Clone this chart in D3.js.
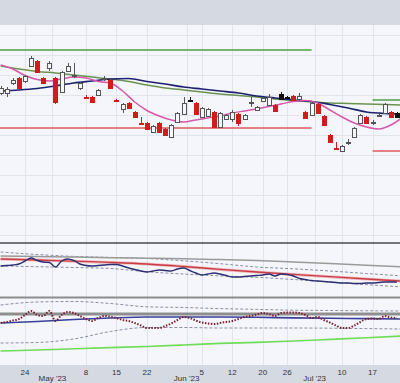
<!DOCTYPE html>
<html>
<head>
<meta charset="utf-8">
<script src="https://cdn.jsdelivr.net/npm/d3@7/dist/d3.min.js"></script>
<style>
  html, body { margin: 0; padding: 0; background: #f4f6fb; }
  svg { display: block; font-family: "Liberation Sans", Arial, sans-serif; }
</style>
</head>
<body>
<div id="chart"></div>
<script>
// price candles, one per trading day (Apr 18 .. Jul 21 2023)
const open  = [52.2,52.2,53.2,53.7,53.4,54.9,55.4,53.7,54.7,53.7,52.3,54.4,53.9,52.7,51.8,51.8,52.0,53.65,53.5,51.55,50.6,51.2,50.3,49.25,49.2,48.3,49.2,48.6,47.8,49.3,50.1,51.55,51.2,49.8,49.9,50.3,48.8,49.6,49.6,50.1,49.6,51.25,50.5,51.4,51.0,51.0,52.1,51.85,51.9,51.6,50.3,50.0,51.1,49.9,48.0,46.75,46.4,47.25,47.8,49.2,49.8,49.25,50.0,50.2,50.3,50.2];
const high  = [52.9,52.8,53.7,53.8,54.0,55.9,55.5,53.8,55.4,53.8,54.4,55.2,55.2,53.3,52.0,51.9,52.6,53.9,53.6,51.6,51.2,51.3,50.4,49.8,49.3,49.0,49.3,48.7,49.1,50.3,51.8,51.8,51.3,50.8,50.7,50.4,50.3,50.1,50.5,50.2,50.1,51.8,50.9,51.8,52.1,51.1,52.3,51.9,52.0,52.2,50.4,51.3,51.2,50.0,48.1,47.3,47.0,47.6,48.8,50.1,49.9,49.5,50.3,51.2,50.4,50.3];
const low   = [52.0,51.8,53.0,52.6,53.2,54.8,54.2,53.1,54.4,51.1,52.2,54.3,53.7,52.5,51.6,51.2,51.9,53.4,52.6,51.4,50.2,50.6,49.7,49.1,48.5,48.2,48.2,47.9,47.7,49.2,50.0,51.3,50.0,49.7,49.8,48.7,48.7,49.5,49.3,48.9,49.5,50.8,50.4,51.3,50.9,50.3,51.5,51.7,51.4,51.4,49.6,49.9,50.1,48.9,47.2,46.6,46.3,47.0,47.7,49.1,49.1,49.0,49.8,50.1,49.7,49.7];
const close = [52.7,52.6,53.5,52.7,53.9,55.7,54.3,53.2,55.2,51.3,54.3,54.9,54.0,53.2,51.7,51.3,52.5,53.7,52.7,51.45,51.1,50.7,49.8,49.15,48.6,48.9,48.3,48.0,49.0,50.2,51.2,51.45,50.1,50.7,50.6,48.8,50.2,50.0,50.3,49.2,50.0,51.3,50.8,51.7,51.8,50.4,51.6,51.75,51.5,51.9,49.7,51.2,50.2,49.0,47.3,46.65,46.9,47.3,48.7,50.0,49.2,49.3,50.05,51.1,49.8,49.85];

// x axis ticks (index into the candle arrays)
const dayTickIdx = [4, 14, 19, 24, 33, 38, 43, 47, 56, 61];
const dayTickLabels = ['24', '8', '15', '22', '5', '12', '20', '26', '10', '17'];
const monthTickIdx = [8.5, 30.5, 51.5];
const monthTickLabels = ["May '23", "Jun '23", "Jul '23"];

// moving averages on the price panel
const maSlowIdx = [0,3,6,9,12,15,18,21,24,27,30,33,36,39,42,45,48,51,54,57,60,63,66];
const maNavy  = [52.4,52.5,52.65,52.9,53.2,53.4,53.6,53.65,53.35,53.1,52.8,52.6,52.4,52.2,51.9,51.7,51.5,51.35,51.05,50.7,50.3,50.15,50.1];
const maOlive = [54.9,54.6,54.35,54.2,54.0,53.8,53.6,53.35,53.0,52.7,52.5,52.3,52.1,51.95,51.8,51.6,51.45,51.3,51.2,51.15,51.1,51.05,51.0];
const maFastIdx = [0,2,4,6,8,10,12,14,16,18,20,22,24,26,28,30,32,34,36,38,40,42,44,46,48,50,52,54,56,58,60,62,64,66];
const maPink  = [55.0,54.6,53.95,53.55,53.4,53.6,53.8,53.7,53.35,53.2,52.4,51.3,50.45,49.9,49.5,49.3,49.5,49.7,49.9,50.2,50.4,50.6,50.85,51.1,51.35,51.45,51.2,50.5,49.8,49.2,48.8,48.6,49.0,49.8];

// horizontal support / resistance levels
const levelValue = [56.5, 48.7, 51.5, 46.4];
const levelFrom  = [-1, -1, 61, 61];
const levelTo    = [51, 51, 67, 67];

// middle panel
const p2Idx = [0,6,12,18,24,30,36,42,48,54,60,66];
const p2Gray  = [41,40.5,40,39.3,38.8,38.3,37.4,36.4,35,33.5,31.7,30];
const p2Red   = [38,37,35.8,34.6,33,30.5,27.6,25,22.6,20.3,18,15.8];
const p2Upper = [45,42.5,40.6,39.6,38.5,36.2,33.3,30,28.2,26,23.5,21];
const p2Lower = [31,30.3,29.5,28.5,25.2,23,21.1,19.7,17.5,15,12.4,10];
const p2Navy  = [31,31.5,32,33,36,39,36.5,35,34.5,30,36,38,36.5,33,31.5,31,31.5,32,32.5,32.5,31,29,27.5,26,25,26,27,26.5,26,28,29,26.5,24,22,23,24,23,21.5,20,20,20.5,21,21.5,22,23,21,23,22.5,21,18.5,17.5,16.5,16,15.5,15,14.5,14,14,13.5,13.5,14,14,14.5,15,15,15];

// bottom panel
const p3Idx = [0,6,12,18,24,30,36,42,48,54,60,66];
const p3Navy  = [42,43.5,45.5,47,48,48,48,47.7,47.1,46.7,46.4,46];
const p3Upper = [60,63,63.5,61.5,58.2,57.5,56.4,55.6,54.8,54.5,54.2,54];
const p3Lower = [22,22.5,26,33.5,37.5,37.5,37,37,37,36.8,36.4,36];
const p3Green = [14,15,16.2,17.4,18.5,20,21.6,22.6,24,25.6,27.2,29];
const p3Level = 51;
const p3Dotted = [42,43,44.5,46,50,54,50,49,54,44,50,53,52,49,46,44,47,49,48.5,47,45,44,42,39.5,37,37,37,39,41.5,45,48,47,44.5,42.5,41.5,41,42,43,44,46,48,49,50.5,52,51,49,52,52.5,52.5,52,50,47,48,45,42.5,39.5,37,37,39.5,43,46,46.5,46,49,47.5,47];

const W = 400, H = 383;
const bg = '#f4f6fb', band = '#d5d9e2', grid = '#e0e4ec';

const svg = d3.select('#chart').append('svg').attr('width', W).attr('height', H);

const x = d3.scaleLinear().domain([-0.1, 65.5]).range([0, W]);
const yMain = d3.scaleLinear().domain([37.2, 59]).range([243, 25]);
const y2 = d3.scaleLinear().domain([0, 54]).range([297, 243]);
const y3 = d3.scaleLinear().domain([0, 67]).range([365, 298]);

// bands
svg.append('rect').attr('width', W).attr('height', 25).attr('fill', band);
svg.append('rect').attr('y', 25).attr('width', W).attr('height', 340).attr('fill', bg);
svg.append('rect').attr('y', 365).attr('width', W).attr('height', 18).attr('fill', band);

// clip per panel
const defs = svg.append('defs');
[['cMain', 25, 218], ['c2', 243, 54], ['c3', 298, 67]].forEach(([id, top, h]) => {
  defs.append('clipPath').attr('id', id).append('rect').attr('x', 0).attr('y', top).attr('width', W).attr('height', h);
});

// vertical grid
const gridG = svg.append('g');
gridG.selectAll('line.v')
  .data(dayTickIdx.concat(monthTickIdx))
  .join('line')
  .attr('x1', d => Math.round(x(d)) + 0.5).attr('x2', d => Math.round(x(d)) + 0.5)
  .attr('y1', 25).attr('y2', 365)
  .attr('stroke', grid);
// horizontal grid in price panel
gridG.selectAll('line.h')
  .data(yMain.ticks(10))
  .join('line')
  .attr('x1', 0).attr('x2', W)
  .attr('y1', d => Math.round(yMain(d)) + 0.5).attr('y2', d => Math.round(yMain(d)) + 0.5)
  .attr('stroke', grid);

// ---- price panel ----
const main = svg.append('g').attr('clip-path', 'url(#cMain)');

const levelColors = ['#4f9f45', '#e05a5a', '#4f9f45', '#e05a5a'];
main.selectAll('line.level')
  .data(levelValue)
  .join('line')
  .attr('x1', (d, i) => x(levelFrom[i])).attr('x2', (d, i) => x(levelTo[i]))
  .attr('y1', d => yMain(d)).attr('y2', d => yMain(d))
  .attr('stroke', (d, i) => levelColors[i]).attr('stroke-width', 1.3);

function drawLine(g, idx, vals, ys, color, width, dash) {
  const line = d3.line().x((d, i) => x(idx[i])).y(d => ys(d)).curve(d3.curveMonotoneX);
  g.append('path').datum(vals)
    .attr('d', line)
    .attr('fill', 'none')
    .attr('stroke', color)
    .attr('stroke-width', width)
    .attr('stroke-dasharray', dash || null);
}

drawLine(main, maSlowIdx, maOlive, yMain, '#6a9350', 1.5);
drawLine(main, maSlowIdx, maNavy, yMain, '#1d216e', 1.7);
drawLine(main, maFastIdx, maPink, yMain, '#d858aa', 1.5);

// candles
const candles = open.map((o, i) => ({
  i, o, h: high[i], l: low[i], c: close[i], pc: i ? close[i - 1] : null
}));
function candleColor(d) {
  if (d.c >= d.o) return '#555';
  return (d.pc !== null && d.c < d.pc) ? '#d21b1b' : '#111';
}
const cg = main.append('g');
cg.selectAll('line.wick')
  .data(candles)
  .join('line')
  .attr('x1', d => Math.round(x(d.i)) + 0.5).attr('x2', d => Math.round(x(d.i)) + 0.5)
  .attr('y1', d => yMain(d.h)).attr('y2', d => yMain(d.l))
  .attr('stroke', candleColor);
cg.selectAll('rect.body')
  .data(candles)
  .join('rect')
  .attr('x', d => Math.round(x(d.i)) - 1.5)
  .attr('width', 4)
  .attr('y', d => Math.round(yMain(Math.max(d.o, d.c))) + 0.5)
  .attr('height', d => Math.max(1, Math.round(Math.abs(yMain(d.o) - yMain(d.c)))))
  .attr('fill', d => d.c >= d.o ? bg : candleColor(d))
  .attr('stroke', candleColor);

// ---- middle panel ----
const p2 = svg.append('g').attr('clip-path', 'url(#c2)');
const allIdx = d3.range(p2Navy.length);
drawLine(p2, p2Idx, p2Upper, y2, '#8a8fa0', 1, '3,2');
drawLine(p2, p2Idx, p2Lower, y2, '#8a8fa0', 1, '3,2');
drawLine(p2, p2Idx, p2Gray, y2, '#9a9a9a', 1.5);
drawLine(p2, p2Idx, p2Red, y2, '#f0b8bc', 3);
drawLine(p2, p2Idx, p2Red, y2, '#c83c46', 1.3);
drawLine(p2, allIdx, p2Navy, y2, '#2b3070', 1.4);

// ---- bottom panel ----
const p3 = svg.append('g').attr('clip-path', 'url(#c3)');
drawLine(p3, p3Idx, p3Upper, y3, '#8a8fa0', 1, '3,2');
drawLine(p3, p3Idx, p3Lower, y3, '#8a8fa0', 1, '3,2');
p3.append('line')
  .attr('x1', 0).attr('x2', W)
  .attr('y1', y3(p3Level)).attr('y2', y3(p3Level))
  .attr('stroke', '#8e8e8e').attr('stroke-width', 3);
drawLine(p3, p3Idx, p3Navy, y3, '#3a3f99', 1.6);
drawLine(p3, p3Idx, p3Green, y3, '#6fdc5a', 1.6);
drawLine(p3, allIdx, p3Dotted, y3, '#7a2030', 2, '1.5,1.5');

// panel separators
svg.append('line').attr('x1', 0).attr('x2', W).attr('y1', 243).attr('y2', 243)
  .attr('stroke', '#4a4a4a').attr('stroke-width', 1.5);
svg.append('line').attr('x1', 0).attr('x2', W).attr('y1', 297.5).attr('y2', 297.5)
  .attr('stroke', '#8c8c8c').attr('stroke-width', 2);

// x axis labels
const axisG = svg.append('g').attr('fill', '#333').attr('font-size', 8).attr('text-anchor', 'middle');
axisG.selectAll('text.day')
  .data(dayTickIdx)
  .join('text')
  .attr('x', d => x(d)).attr('y', 375)
  .text((d, i) => dayTickLabels[i]);
axisG.selectAll('text.month')
  .data(monthTickIdx)
  .join('text')
  .attr('x', d => x(d)).attr('y', 381)
  .text((d, i) => monthTickLabels[i]);
</script>
</body>
</html>
